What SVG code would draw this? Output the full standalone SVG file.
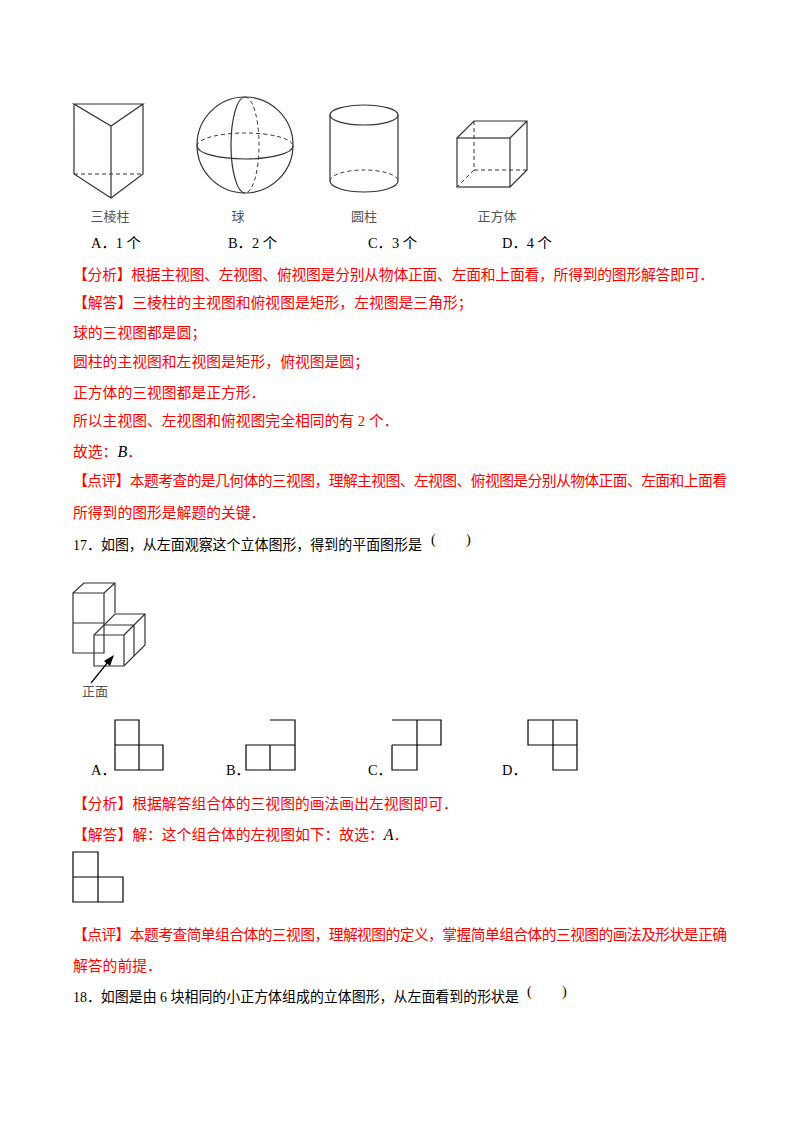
<svg xmlns="http://www.w3.org/2000/svg" width="800" height="1132" viewBox="0 0 800 1132">
<style>
.t{font-family:"Liberation Serif","Noto Sans CJK SC",serif;font-size:14.4px;fill:#000}
.r{font-family:"Liberation Serif","Noto Sans CJK SC",serif;font-size:14.8px;fill:#ff0000}
.g{font-family:"Noto Sans CJK SC",sans-serif;font-size:13px;fill:#555}
.s{fill:none;stroke:#333;stroke-width:1.2}
.d{fill:none;stroke:#333;stroke-width:1;stroke-dasharray:4 3}
.k{fill:none;stroke:#000;stroke-width:1.2}
</style>
<rect width="800" height="1132" fill="#fff"/>
<g id="prism">
<path class="s" d="M74,104H143L111,126ZM74,104V174L111,198L143,174V104M111,126V198"/>
<path class="d" d="M74,174H143"/>
</g>
<g id="sphere">
<circle class="s" cx="245" cy="145" r="48"/>
<path class="s" d="M197,146A48,13 0 0 0 293,146"/>
<path class="d" d="M197,146A48,13 0 0 1 293,146"/>
<path class="s" d="M245,97A14,48 0 0 0 245,193"/>
<path class="d" d="M245,97A14,48 0 0 1 245,193"/>
</g>
<g id="cylinder">
<ellipse class="s" cx="364" cy="115" rx="34" ry="10"/>
<path class="s" d="M330,115V181A34,11 0 0 0 398,181V115"/>
<path class="d" d="M330,181A34,11 0 0 1 398,181"/>
</g>
<g id="cube">
<rect class="s" x="457" y="138" width="53" height="49"/>
<path class="s" d="M457,138L474,121H527V170L510,187M510,138L527,121"/>
<path class="d" d="M474,121V170H527M474,170L457,187"/>
</g>
<g id="labels1">
<text class="g" x="110" y="221" text-anchor="middle">三棱柱</text>
<text class="g" x="238" y="221" text-anchor="middle">球</text>
<text class="g" x="364" y="221" text-anchor="middle">圆柱</text>
<text class="g" x="497" y="221" text-anchor="middle">正方体</text>
<text class="t" x="91" y="248">A．1 个</text>
<text class="t" x="228" y="248">B．2 个</text>
<text class="t" x="368" y="248">C．3 个</text>
<text class="t" x="502" y="248">D．4 个</text>
</g>
<g id="text1">
<text class="r" x="73" y="280" textLength="641" lengthAdjust="spacing">【分析】根据主视图、左视图、俯视图是分别从物体正面、左面和上面看，所得到的图形解答即可．</text>
<text class="r" x="73" y="308">【解答】三棱柱的主视图和俯视图是矩形，左视图是三角形；</text>
<text class="r" x="73" y="338">球的三视图都是圆；</text>
<text class="r" x="73" y="367">圆柱的主视图和左视图是矩形，俯视图是圆；</text>
<text class="r" x="73" y="398">正方体的三视图都是正方形．</text>
<text class="r" x="73" y="426">所以主视图、左视图和俯视图完全相同的有 2 个．</text>
<text class="r" x="73" y="457">故选：<tspan fill="#000" font-style="italic" font-size="16">B</tspan>．</text>
<text class="r" x="73" y="486" textLength="654" lengthAdjust="spacing">【点评】本题考查的是几何体的三视图，理解主视图、左视图、俯视图是分别从物体正面、左面和上面看</text>
<text class="r" x="73" y="518">所得到的图形是解题的关键．</text>
<text class="t" x="73" y="550" textLength="349" lengthAdjust="spacingAndGlyphs">17．如图，从左面观察这个立体图形，得到的平面图形是</text>
<text class="t" x="431" y="544">(</text>
<text class="t" x="466" y="544">)</text>
</g>
<g id="solid">
<path class="s" d="M73,593H104V653H73ZM73,623H104M73,593L84,583H115V613M104,593L115,583"/>
<path class="s" fill="#fff" d="M94,635L115,614H145V645L124,666H94Z"/>
<path class="s" d="M94,635H124V666M124,635L145,614M104,625H134V656M134,625V656"/>
<path class="k" d="M91,683L108,662"/>
<path d="M114,655L104,661L110,666Z" fill="#000"/>
<text class="g" x="95" y="696" text-anchor="middle">正面</text>
</g>
<g id="options2">
<path class="k" d="M115,720H139V770H115ZM115,745H163V770H139"/>
<path class="k" d="M270,720H295V770H246V745H295M270,745V770"/>
<path class="k" d="M392,720H441V745H392M417,720V745M392,745V770H417V745"/>
<path class="k" d="M528,720H577V745H528ZM553,720V770H577V745"/>
<text class="t" x="91" y="775">A．</text>
<text class="t" x="226" y="775">B．</text>
<text class="t" x="368" y="775">C．</text>
<text class="t" x="502" y="775">D．</text>
</g>
<g id="text2">
<text class="r" x="73" y="809">【分析】根据解答组合体的三视图的画法画出左视图即可．</text>
<text class="r" x="73" y="840">【解答】解：这个组合体的左视图如下：故选：<tspan fill="#000" font-style="italic" font-size="16">A</tspan>．</text>
<path class="k" d="M73,852H98V902H73ZM73,877H123V902H98"/>
<text class="r" x="73" y="940" textLength="654" lengthAdjust="spacing">【点评】本题考查简单组合体的三视图，理解视图的定义，掌握简单组合体的三视图的画法及形状是正确</text>
<text class="r" x="73" y="971">解答的前提．</text>
<text class="t" x="73" y="1002" textLength="446" lengthAdjust="spacingAndGlyphs">18．如图是由 6 块相同的小正方体组成的立体图形，从左面看到的形状是</text>
<text class="t" x="527" y="996">(</text>
<text class="t" x="562" y="996">)</text>
</g>
</svg>
